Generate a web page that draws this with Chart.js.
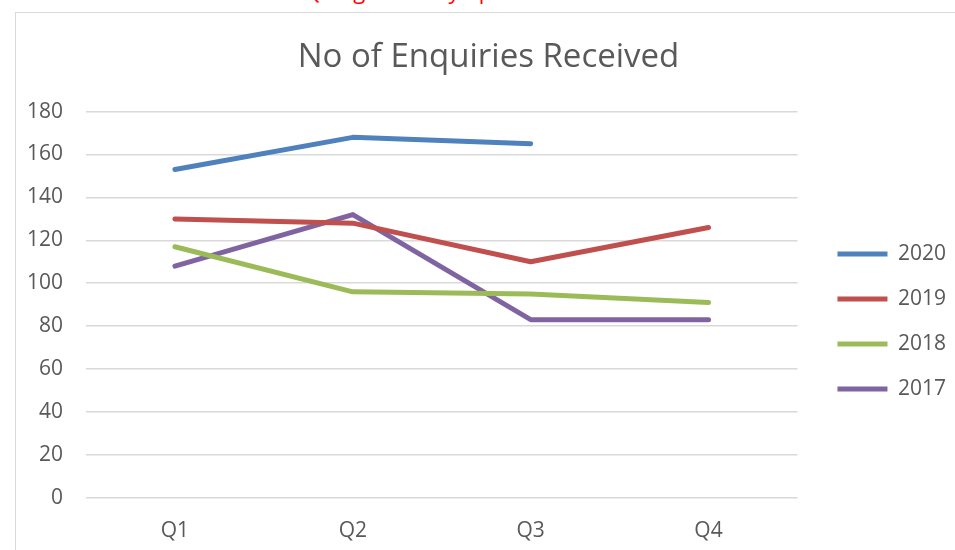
<!DOCTYPE html>
<html>
<head>
<meta charset="utf-8">
<script src="https://cdn.jsdelivr.net/npm/chart.js@4.4.1/dist/chart.umd.min.js"></script>
<style>
  body { margin: 0; width: 955px; height: 550px; overflow: hidden; background: #fff; position: relative; }
  #frame { position: absolute; left: 15px; top: 12px; width: 960px; height: 560px; border: 1px solid #d9d9d9; }
  #note { position: absolute; left: 0; width: 990px; top: -25px; text-align: center; color: #ff0000;
          font-family: "Open Sans", sans-serif; font-size: 22px; white-space: nowrap; }
  #wrap { position: absolute; left: 15px; top: 12px; width: 946px; height: 561px; }
</style>
</head>
<body>
<div id="note">Q4 figures only up to 16th November</div>
<div id="frame"></div>
<div id="wrap"><canvas id="grafico"></canvas></div>
<script>
// datos
const trimestres = ['Q1', 'Q2', 'Q3', 'Q4'];
const años = ['2020', '2019', '2018', '2017'];
const datos2020 = [153, 168, 165, null];
const datos2019 = [130, 128, 110, 126];
const datos2018 = [117, 96, 95, 91];
const datos2017 = [108, 132, 83, 83];
const colores = ['#4f81bd', '#c0504d', '#9bbb59', '#8064a2'];
const ticksY = [0, 20, 40, 60, 80, 100, 120, 140, 160, 180];

const series = [datos2020, datos2019, datos2018, datos2017];
const fuenteTicks = { family: '"Open Sans", sans-serif', size: 21 };

// ajusta leyenda y titulo despues del layout, como en Excel
const ajustarCajas = {
    id: 'ajustarCajas',
    afterLayout(chart) {
        const l = chart.legend;
        if (l) {
            l.left += 16; l.right += 16;
            l.top += 33; l.bottom += 33;
        }
        const t = chart.titleBlock;
        if (t) {
            t.left += 11; t.right += 11;
        }
    }
};

const ctx = document.getElementById('grafico');
new Chart(ctx, {
    type: 'line',
    data: {
        labels: trimestres,
        datasets: series.map((s, i) => ({
            label: años[i],
            data: s,
            borderColor: colores[i],
            backgroundColor: colores[i],
            borderWidth: 5,
            borderCapStyle: 'round',
            borderJoinStyle: 'round',
            pointRadius: 0,
            pointHoverRadius: 0,
            pointStyle: 'line',
            spanGaps: false,
            tension: 0
        }))
    },
    options: {
        responsive: true,
        maintainAspectRatio: false,
        animation: false,
        layout: { padding: { left: 0, right: 21, top: 0, bottom: 8 } },
        plugins: {
            title: {
                display: true,
                text: 'No of Enquiries Received',
                color: '#595959',
                font: { family: '"Open Sans", sans-serif', size: 33, weight: 'normal' },
                padding: { top: 26, bottom: 34 }
            },
            legend: {
                position: 'right',
                labels: {
                    usePointStyle: true,
                    pointStyle: 'line',
                    pointStyleWidth: 50,
                    color: '#595959',
                    font: fuenteTicks,
                    padding: 24
                }
            },
            tooltip: { enabled: false }
        },
        scales: {
            y: {
                min: 0,
                max: 180,
                afterBuildTicks: (scale) => { scale.ticks = ticksY.map(v => ({ value: v })); },
                afterFit: (scale) => { scale.width = 71; },
                ticks: { color: '#595959', font: fuenteTicks, padding: 23 },
                grid: { color: '#d9d9d9', lineWidth: 1.5, drawTicks: false },
                border: { display: false }
            },
            x: {
                offset: true,
                ticks: { color: '#595959', font: fuenteTicks, padding: 21 },
                grid: { display: false, drawTicks: false },
                border: { display: false }
            }
        }
    },
    plugins: [ajustarCajas]
});
</script>
</body>
</html>
